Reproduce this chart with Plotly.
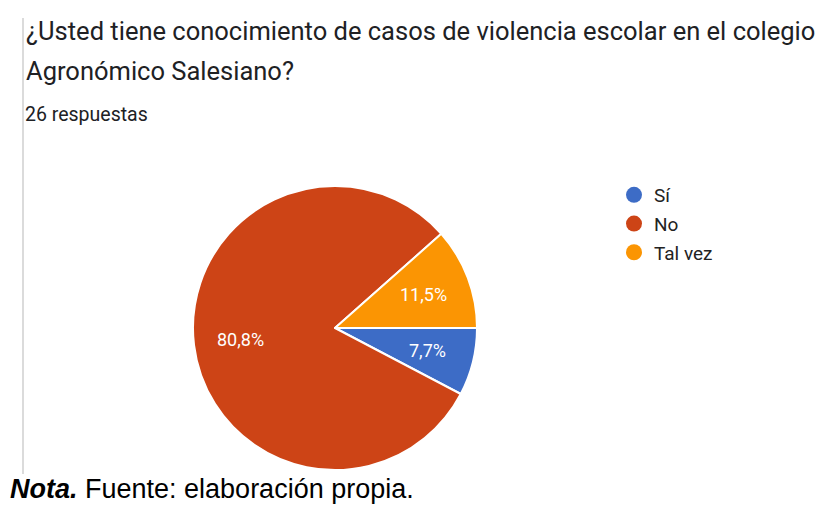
import math
import plotly.graph_objects as go

W, H = 823, 506

categories = ["Sí", "No", "Tal vez"]
responses = [2, 21, 3]
colors = ["#3d6cc6", "#cd4416", "#fb9503"]

title_lines = ["¿Usted tiene conocimiento de casos de violencia escolar en el colegio",
               "Agronómico Salesiano?"]
subtitle = "26 respuestas"
note_bold = "Nota."
note_rest = " Fuente: elaboración propia."

def px_x(x):
    return x / W

def px_y(y):
    return 1 - y / H

cx, cy, r = 335, 328, 142

fig = go.Figure()
fig.add_trace(go.Pie(
    labels=categories, values=responses, sort=False, direction="clockwise",
    rotation=90, marker=dict(colors=colors, line=dict(color="white", width=2)),
    textinfo="none",
    showlegend=False, hoverinfo="label+percent",
    domain=dict(x=[px_x(cx - r), px_x(cx + r)], y=[px_y(cy + r), px_y(cy - r)]),
))

for cat, col in zip(categories, colors):
    fig.add_trace(go.Scatter(
        x=[None], y=[None], mode="markers", name=cat, legendgroup=cat,
        marker=dict(symbol="circle", size=16, color=col),
    ))

annotations = [
    dict(text=title_lines[0], x=px_x(24), y=px_y(31), font=dict(size=25.5, color="#202124", family="Roboto")),
    dict(text=title_lines[1], x=px_x(24), y=px_y(71), font=dict(size=25.5, color="#202124", family="Roboto")),
    dict(text=subtitle, x=px_x(23), y=px_y(114), font=dict(size=19.5, color="#202124", family="Roboto")),
    dict(text="<b><i>" + note_bold + "</i></b>" + note_rest, x=px_x(8), y=px_y(489),
         font=dict(size=27, color="black", family="Liberation Sans")),
]

# percentage labels placed along each slice's mid-angle (computed from the data)
total = sum(responses)
cum = 0
for v in responses:
    frac = v / total
    mid = (cum + frac / 2) * 2 * math.pi
    cum += frac
    lx = cx + 0.67 * r * math.cos(mid)
    ly = cy + 0.67 * r * math.sin(mid)
    annotations.append(dict(
        text=f"{frac * 100:.1f}%".replace(".", ","), x=px_x(lx), y=px_y(ly),
        xanchor="center", font=dict(size=18, color="white", family="Roboto"),
    ))

for a in annotations:
    a.setdefault("xanchor", "left")
    a.update(xref="paper", yref="paper", yanchor="middle", showarrow=False)

fig.update_layout(
    width=W, height=H, margin=dict(l=0, r=0, t=0, b=0),
    paper_bgcolor="white", plot_bgcolor="white",
    separators=",.",
    xaxis=dict(visible=False, domain=[0, 1]), yaxis=dict(visible=False, domain=[0, 1]),
    annotations=annotations,
    shapes=[dict(type="line", xref="paper", yref="paper", x0=px_x(23), x1=px_x(23),
                 y0=px_y(18), y1=px_y(474), line=dict(color="#cfcfcf", width=1.5))],
    legend=dict(x=px_x(614), y=px_y(176), xanchor="left", yanchor="top",
                font=dict(family="Roboto", size=19, color="#222222"),
                tracegroupgap=1, bgcolor="rgba(0,0,0,0)"),
)

fig.write_html("out.html", config={"displayModeBar": False},
               post_script="document.body.style.margin='0';")
